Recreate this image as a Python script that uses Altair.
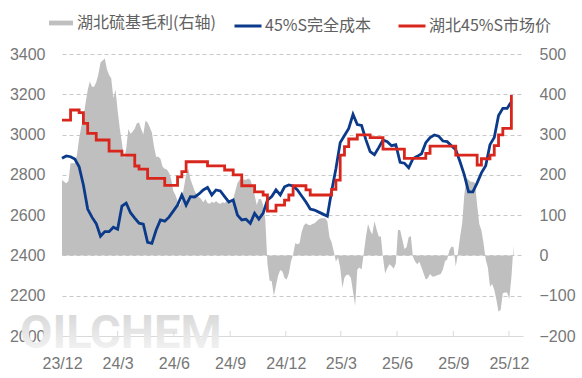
import altair as alt
import pandas as pd

# ---------------- data ----------------
START = "2023-12-01"

NAME_AREA = "湖北硫基毛利(右轴)"
NAME_BLUE = "45%S完全成本"
NAME_RED = "湖北45%S市场价"

# weekly 45%S full cost (left axis)
blue_vals = [
    2882, 2894, 2890, 2878, 2840, 2750, 2630, 2590, 2558, 2495,
    2518, 2518, 2540, 2530, 2645, 2660, 2612, 2585, 2560, 2555,
    2465, 2460, 2526, 2576, 2570, 2590, 2620, 2650, 2700, 2650,
    2692, 2690, 2705, 2725, 2738, 2700, 2725, 2720, 2692, 2665,
    2675, 2600, 2576, 2580, 2559, 2609, 2580, 2610, 2675, 2692,
    2725, 2700, 2741, 2750, 2745, 2725, 2695, 2665, 2630, 2625,
    2615, 2605, 2595, 2720, 2830, 2960, 2995, 3030, 3100, 3050,
    3045, 2975, 2915, 2900, 2935, 2973, 2965, 2945, 2950, 2862,
    2858, 2835, 2880, 2892, 2905, 2960, 2985, 2998, 2992, 2968,
    2965, 2945, 2925, 2865, 2800, 2716, 2716, 2760, 2810, 2845,
    2950, 2985, 3095, 3130, 3130, 3163,
]

# weekly Hubei 45%S market price (left axis)
red_vals = [
    3072, 3072, 3122, 3122, 3109, 3056, 3006, 3006, 2973, 2973,
    2973, 2918, 2918, 2918, 2898, 2898, 2898, 2844, 2828, 2828,
    2783, 2783, 2783, 2783, 2748, 2748, 2748, 2790, 2816, 2865,
    2865, 2865, 2865, 2865, 2845, 2845, 2845, 2845, 2824, 2824,
    2800, 2800, 2746, 2746, 2746, 2716, 2716, 2700, 2620, 2620,
    2650, 2650, 2675, 2700, 2746, 2746, 2746, 2725, 2700, 2700,
    2700, 2700, 2700, 2728, 2774, 2898, 2940, 2978, 2978, 2998,
    2998, 2998, 2985, 2985, 2985, 2928, 2928, 2928, 2928, 2928,
    2882, 2882, 2882, 2882, 2882, 2907, 2943, 2943, 2943, 2943,
    2943, 2943, 2898, 2898, 2898, 2898, 2898, 2849, 2880, 2880,
    2898, 2945, 2998, 3031, 3031, 3196,
]

# half-weekly Hubei sulfur-based gross margin (right axis)
margin_vals = [
    187, 183, 179, 185, 229, 229, 229, 250, 290, 320,
    342, 378, 410, 432, 419, 419, 430, 450, 479, 484,
    489, 462, 448, 440, 390, 411, 360, 315, 280, 240,
    265, 314, 302, 307, 315, 328, 330, 314, 300, 334,
    330, 318, 305, 270, 245, 245, 240, 220, 215, 213,
    205, 190, 160, 150, 135, 122, 140, 170, 200, 215,
    190, 175, 160, 150, 145, 140, 132, 140, 130, 128,
    133, 130, 135, 130, 128, 132, 130, 136, 133, 128,
    140, 160, 180, 188, 191, 188, 188, 191, 188, 172,
    150, 125, 140, 140, 125, 90, -20, -62, -64, -100,
    -75, -50, -36, -40, -56, -60, -45, -15, 2, 30,
    28, 30, 58, 74, 80, 76, 75, 78, 80, 85,
    90, 92, 92, 92, 85, 45, 33, 10, -15, -5,
    -30, -80, -55, -48, -48, -56, -90, -125, -35, -30,
    -35, 5, 45, 78, 62, 52, 85, 65, 47, 47,
    -5, -45, -32, -22, -26, -33, -20, 63, 63, 40,
    16, 20, 45, 48, -3, -15, -22, -16, -30, -45,
    -60, -56, -46, -52, -52, -50, -48, -46, -35, -14,
    -10, 12, 22, 20, -28, 5, 45, 80, 150, 192,
    188, 183, 183, 180, 125, 78, 62, 30, -10, -30,
    -77, -71, -85, -110, -140, -135, -94, -92, -92, -108,
    -55, 25,
]

quarter_ticks = [(2023, 12), (2024, 3), (2024, 6), (2024, 9), (2024, 12),
                 (2025, 3), (2025, 6), (2025, 9), (2025, 12)]
left_ticks = [2000, 2200, 2400, 2600, 2800, 3000, 3200, 3400]
right_ticks = [-200, -100, 0, 100, 200, 300, 400, 500]
watermark = ["OILCHEM"]

# ---------------- tables ----------------
line_dates = pd.date_range(START, periods=len(blue_vals), freq="7D")
area_dates = pd.date_range(START, periods=len(margin_vals), freq="84h")

df_blue = pd.DataFrame({"date": line_dates, "value": blue_vals, "series": NAME_BLUE})
df_red = pd.DataFrame({"date": line_dates, "value": red_vals, "series": NAME_RED})
df_area = pd.DataFrame({"date": area_dates, "value": margin_vals, "series": NAME_AREA})
df_ticks = pd.DataFrame({"date": [pd.Timestamp(year=y, month=m, day=1) for y, m in quarter_ticks[1:]]})
df_wm = pd.DataFrame({"t": watermark})

# ---------------- style ----------------
BLUE = "#0B3A8A"
RED = "#D9261C"
GRAY = "#BFBFBF"
AXIS_COLOR = "#777777"
LEGEND_COLOR = "#606060"
NUM_FONT = "Liberation Sans"
CJK_FONT = "Noto Sans CJK SC"

x_scale = alt.Scale(domain=[alt.DateTime(year=2023, month=12, date=1),
                            alt.DateTime(year=2025, month=12, date=24)])
x_axis = alt.Axis(
    values=[alt.DateTime(year=y, month=m, date=1) for y, m in quarter_ticks],
    format="%y/%-m", labelFlush=False, labelOverlap=False,
    ticks=False, tickSize=0, grid=False, domain=True, domainColor="#D9D9D9",
    domainWidth=1, labelPadding=19, labelFontSize=16, labelColor=AXIS_COLOR,
    labelFont=NUM_FONT, title=None,
)
x_enc = alt.X("date:T", scale=x_scale, axis=x_axis)

left_y = alt.Y(
    "value:Q",
    scale=alt.Scale(domain=[2000, 3400], nice=False, zero=False),
    axis=alt.Axis(orient="left", values=left_ticks, format="d", grid=True,
                  gridDash=[4, 3], gridColor="#C8C8C8", gridWidth=1,
                  ticks=False, domain=False, labelPadding=17, labelFontSize=16,
                  labelColor=AXIS_COLOR, labelFont=NUM_FONT, title=None),
)
right_y = alt.Y(
    "value:Q",
    scale=alt.Scale(domain=[-200, 500], nice=False),
    axis=alt.Axis(orient="right", values=right_ticks, format="d", grid=False,
                  ticks=False, domain=False, labelPadding=16, labelFontSize=16,
                  labelColor=AXIS_COLOR, labelFont=NUM_FONT, title=None),
)

wm = alt.Chart(df_wm).mark_text(
    align="left", baseline="alphabetic", font="Roboto",
    fontWeight="bold", fontSize=47,
    fill=alt.LinearGradient(gradient="linear", x1=0, x2=0, y1=0, y2=1,
                            stops=[alt.GradientStop(offset=0, color="#D2D2D2"),
                                   alt.GradientStop(offset=1, color="#F8F8F8")]),
).encode(text="t:N", x=alt.value(-42), y=alt.value(294))

area = alt.Chart(df_area).mark_area(interpolate="linear").encode(
    x=x_enc,
    y=right_y,
    fill=alt.Fill("series:N",
                  scale=alt.Scale(domain=[NAME_AREA], range=[GRAY]),
                  legend=alt.Legend(orient="none", legendX=-13, legendY=-43,
                                    title=None, symbolType="M-1,-0.2H1V0.2H-1Z",
                                    symbolSize=576, symbolStrokeWidth=0,
                                    labelFontSize=16, labelColor=LEGEND_COLOR,
                                    labelFont=CJK_FONT, labelOffset=4, padding=0)),
)

color_enc = alt.Color(
    "series:N",
    scale=alt.Scale(domain=[NAME_BLUE, NAME_RED], range=[BLUE, RED]),
    legend=alt.Legend(orient="none", direction="horizontal", legendX=171,
                      legendY=-43, title=None, symbolType="stroke",
                      symbolSize=729, symbolStrokeWidth=3, labelFontSize=16,
                      labelColor=LEGEND_COLOR, labelFont=CJK_FONT,
                      columnPadding=20, labelOffset=2, padding=0),
)

blue = alt.Chart(df_blue).mark_line(strokeWidth=2.8, interpolate="linear").encode(
    x=x_enc, y=left_y, color=color_enc)
red = alt.Chart(df_red).mark_line(strokeWidth=2.8, interpolate="step-after").encode(
    x=x_enc, y=left_y, color=color_enc)
ticks = alt.Chart(df_ticks).mark_rule(color="#D9D9D9", strokeWidth=1).encode(
    x=x_enc, y=alt.value(282), y2=alt.value(277))

lines = alt.layer(ticks, blue, red)

chart = alt.layer(wm, area, lines).resolve_scale(
    y="independent"
).properties(
    width=461, height=282,
    autosize=alt.AutoSizeParams(type="none"),
    padding={"left": 62, "top": 54, "right": 59, "bottom": 42},
    background="white",
).configure_view(stroke=None)

chart.save("out.html", embed_options={"renderer": "svg", "actions": False})
